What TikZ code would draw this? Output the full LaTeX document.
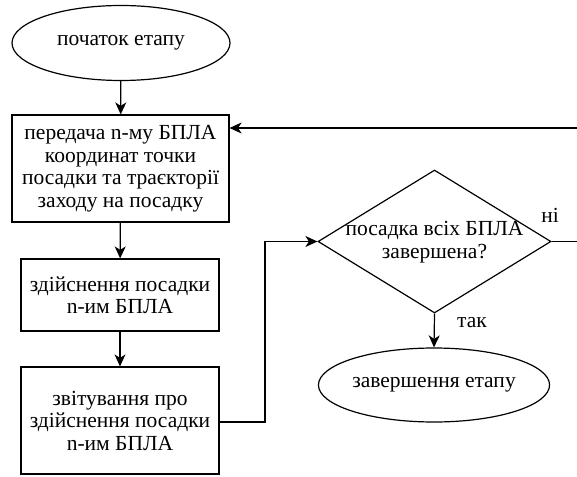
\documentclass[tikz,border=0pt]{standalone}
\usepackage{fontspec}
\setmainfont{Liberation Serif}
\newfontfamily\tnrfont{Liberation Serif}
\usetikzlibrary{shapes.geometric,arrows.meta}
\begin{document}
\begin{tikzpicture}[x=1pt,y=-1pt,
  every node/.style={font=\tnrfont\fontsize{21.5}{22.5}\selectfont},
  line/.style={line width=1.2pt},
  arr/.style={line, -{Stealth[length=12pt,width=11pt,inset=3.5pt]}},
  procbox/.style={draw, line width=1.2pt, rectangle, inner sep=0pt, align=center},
  term/.style={draw, line width=1.2pt, ellipse, inner sep=0pt, align=center},
  decis/.style={draw, line width=1.2pt, diamond, inner sep=0pt, aspect=1.63}
]
\useasboundingbox (0,0) rectangle (577,476);
\node[term, minimum width=218pt, minimum height=75pt] (start) at (121,43) {початок етапу};
\node[procbox, minimum width=217pt, minimum height=107pt] (b1) at (120.5,168.5) {передача n-му БПЛА\\координат точки\\посадки та траєкторії\\заходу на посадку};
\node[procbox, minimum width=198pt, minimum height=72pt] (b2) at (120,295) {здійснення посадки\\n-им БПЛА};
\node[procbox, minimum width=198pt, minimum height=107pt] (b3) at (120,420.5) {звітування про\\здійснення посадки\\n-им БПЛА};
\node[decis, minimum width=233pt, minimum height=143pt] (d) at (434.5,241.5) {};
\node[align=center] (dt) at (434.5,242) {посадка всіх БПЛА\\завершена?};
\node[term, minimum width=218pt, minimum height=74pt] (end) at (434,385) {завершення етапу};
\node (no) at (550,215) {ні};
\node (yes) at (472,323) {так};
\coordinate (rin) at (577,128);
\coordinate (rout) at (577,241.5);
\coordinate (bend) at (265,422);
\draw[arr] (start) -- (b1);
\draw[arr] (b1) -- (b2);
\draw[arr] (b2) -- (b3);
\draw[arr] (rin) -- (b1.east |- rin);
\draw[arr] (b3.east |- bend) -- (bend) |- (d.west);
\draw[arr] (d.south) -- (end.north);
\draw[line] (d.east) -- (rout);
\end{tikzpicture}
\end{document}
